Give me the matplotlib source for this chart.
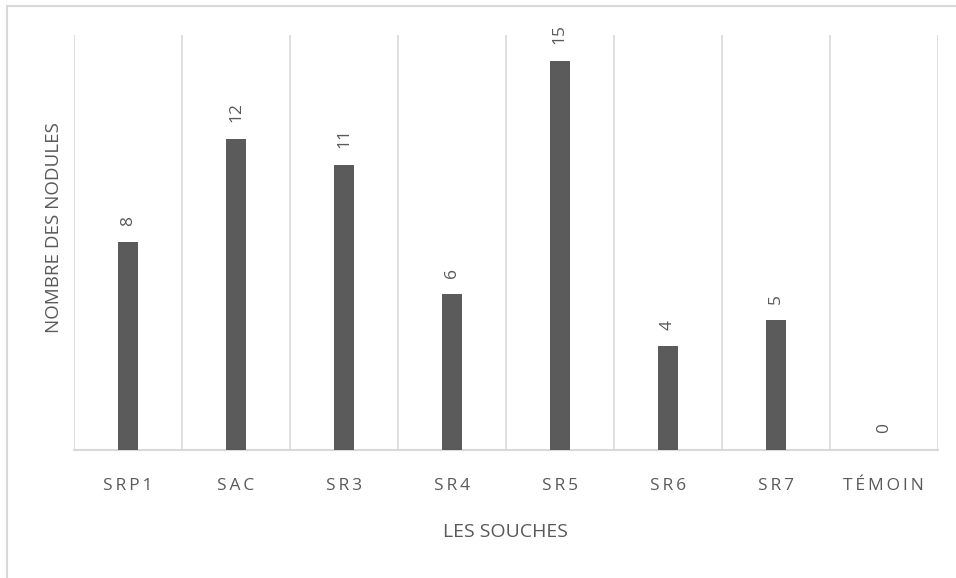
import matplotlib
matplotlib.use("Agg")
import matplotlib.pyplot as plt
from matplotlib.patches import Rectangle

plt.rcParams['font.family'] = ['Open Sans', 'DejaVu Sans']

souches = ['SRP1', 'SAC', 'SR3', 'SR4', 'SR5', 'SR6', 'SR7', 'TÉMOIN']
nodules = [8, 12, 11, 6, 15, 4, 5, 0]

grey_txt = '#595959'
grey_bar = '#5b5b5b'
grey_line = '#d9d9d9'


def spaced(s):
    # letter spacing like in the original chart
    return '\u2009'.join(s)


fig = plt.figure(figsize=(9.56, 5.78), dpi=100)
ax = fig.add_axes([0.0774, 0.2215, 0.9036, 0.7179])

x = list(range(len(souches)))
bars = ax.bar(x, nodules, width=0.185, color=grey_bar, zorder=3)

for xi, v in zip(x, nodules):
    ax.annotate(str(v), (xi, v), xytext=(0, 12), textcoords='offset points',
                rotation=90, ha='center', va='bottom', fontsize=12.5, color=grey_txt)

ax.set_xlim(-0.5, len(souches) - 0.5)
ax.set_ylim(0, 16)

# vertical lines between the categories
for b in range(len(souches) + 1):
    ax.axvline(b - 0.5, color=grey_line, lw=1.2, zorder=1)

for side in ['top', 'right', 'left']:
    ax.spines[side].set_visible(False)
ax.spines['bottom'].set_color(grey_line)
ax.spines['bottom'].set_linewidth(1.5)

ax.set_xticks(x)
ax.set_xticklabels([spaced(s) for s in souches], fontsize=12.5, color=grey_txt)
ax.tick_params(axis='x', length=0, pad=20)
ax.set_yticks([])

ax.set_xlabel('LES SOUCHES', fontsize=14, color=grey_txt)
ax.xaxis.set_label_coords(0.5, -0.175)
ax.set_ylabel('NOMBRE DES NODULES', fontsize=13.5, color=grey_txt)
ax.yaxis.set_label_coords(-0.013, 0.535)

# chart frame
fig.patches.append(Rectangle((7 / 956, -0.1), 1.2, 1 - 6 / 578 + 0.1,
                             transform=fig.transFigure, fill=False,
                             edgecolor=grey_line, lw=1.5))

fig.savefig('out.png', dpi=100)
